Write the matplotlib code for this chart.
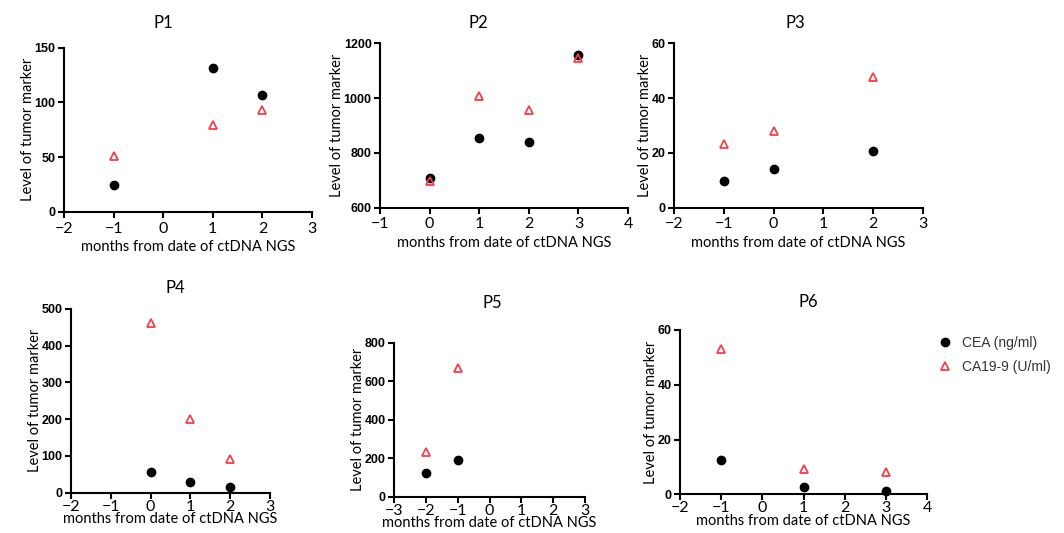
import matplotlib
matplotlib.use("Agg")
import matplotlib.pyplot as plt

# ---- data ----
titles = ["P1", "P2", "P3", "P4", "P5", "P6"]
cea_x = [[-1, 1, 2], [0, 1, 2, 3], [-1, 0, 2], [0, 1, 2], [-2, -1], [-1, 1, 3]]
cea_y = [[24.3, 131.4, 107.0], [709, 855, 841, 1157], [9.6, 14.2, 20.8],
         [55, 28, 14.5], [123, 190], [12.5, 2.6, 1.2]]
ca_x = [[-1, 1, 2], [0, 1, 2, 3], [-1, 0, 2], [0, 1, 2], [-2, -1], [-1, 1, 3]]
ca_y = [[50.8, 79.7, 93.1], [697, 1006, 955, 1146], [23.1, 28.0, 47.7],
        [461, 199, 90.6], [234, 667], [53.2, 9.1, 8.2]]
xlims = [(-2, 3), (-1, 4), (-2, 3), (-2, 3), (-3, 3), (-2, 4)]
ylims = [(0, 150), (600, 1200), (0, 60), (0, 500), (0, 800), (0, 60)]
ysteps = [50, 200, 20, 100, 200, 20]
series_names = ["CEA (ng/ml)", "CA19-9 (U/ml)"]
xlabel = "months from date of ctDNA NGS"
ylabel = "Level of tumor marker"

# ---- layout (pixels: left, right, top, bottom) ----
W, H = 1064, 533
boxes = [(64, 312, 47.7, 212), (380, 628, 43.3, 207.7), (674, 923, 43.3, 207.7),
         (71, 270, 308.7, 492.7), (394, 585, 342.7, 496.7), (680, 927, 330, 494.3)]
title_pos = [(163, 23), (478, 23), (795, 23), (175, 288), (492, 303), (808, 302)]
xtick_pads = [3, 3, 3, 1, 1, 1]
xlabel_pads = [3, 3, 3, -1.5, -1.5, -1]

fig = plt.figure(figsize=(W / 100, H / 100), dpi=100)
label_font = "Lato"
red = "#f0414b"

handles = None
for i in range(6):
    l, r, t, b = boxes[i]
    ax = fig.add_axes([l / W, 1 - b / H, (r - l) / W, (b - t) / H])
    h1, = ax.plot(cea_x[i], cea_y[i], "o", color="black", markersize=6, linestyle="none",
                  clip_on=False)
    h2, = ax.plot(ca_x[i], ca_y[i], "^", markerfacecolor="none", markeredgecolor=red,
                  markeredgewidth=1.3, markersize=6, linestyle="none", clip_on=False)
    handles = (h1, h2)
    ax.set_xlim(*xlims[i])
    ax.set_ylim(*ylims[i])
    ax.set_xticks(range(xlims[i][0], xlims[i][1] + 1))
    y0, y1 = ylims[i]
    ax.set_yticks(list(range(y0, y1 + 1, ysteps[i])))
    for s in ["top", "right"]:
        ax.spines[s].set_visible(False)
    for s in ["left", "bottom"]:
        ax.spines[s].set_linewidth(1.5)
    ax.tick_params(axis="both", direction="out", length=4, width=1.5)
    ax.tick_params(axis="x", pad=xtick_pads[i])
    ax.tick_params(axis="y", pad=2)
    for lab in ax.get_yticklabels():
        lab.set_fontfamily("Liberation Sans")
        lab.set_fontweight("bold")
        lab.set_fontsize(9)
    for lab in ax.get_xticklabels():
        lab.set_fontfamily(label_font)
        lab.set_fontsize(11.5)
    ax.set_xlabel(xlabel, fontfamily=label_font, fontsize=10.5, labelpad=xlabel_pads[i])
    ax.set_ylabel(ylabel, fontfamily=label_font, fontsize=10.5, labelpad=0)
    tx, ty = title_pos[i]
    fig.text(tx / W, 1 - ty / H, titles[i], fontfamily=label_font, fontsize=12,
             ha="center", va="center")

fig.legend(handles, series_names, loc="upper left",
           bbox_to_anchor=(924 / W, 1 - 323 / H), frameon=False,
           prop={"family": "Liberation Sans", "size": 10}, handletextpad=0.6,
           labelspacing=0.75, handlelength=1.2, labelcolor="#333333")

fig.savefig("out.png", dpi=100)
